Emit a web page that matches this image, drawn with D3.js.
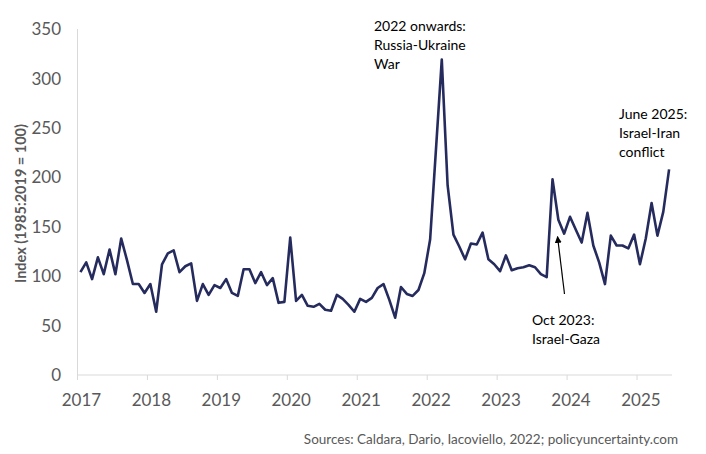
<!DOCTYPE html>
<html>
<head>
<meta charset="utf-8">
<script src="https://cdn.jsdelivr.net/npm/d3@7/dist/d3.min.js"></script>
<style>
  html, body { margin: 0; padding: 0; background: #ffffff; }
  svg { display: block; }
  text { font-family: Lato, "Open Sans", sans-serif; }
</style>
</head>
<body>
<svg id="chart" width="706" height="454"></svg>
<script>
// ---- data (monthly, Jan 2017 – Jun 2025) ----
const startYear = 2017;
const values2017 = [104, 114, 97, 119, 102, 127, 102, 138, 116, 92, 92, 83];
const values2018 = [92, 64, 112, 123, 126, 104, 110, 113, 75, 92, 81, 91];
const values2019 = [88, 97, 83, 80, 107, 107, 93, 104, 91, 98, 73, 74];
const values2020 = [139, 75, 81, 70, 69, 72, 66, 65, 81, 77, 71, 64];
const values2021 = [77, 74, 78, 88, 92, 76, 58, 89, 82, 80, 86, 103];
const values2022 = [137, 228, 319, 192, 142, 130, 117, 133, 132, 144, 117, 112];
const values2023 = [105, 121, 106, 108, 109, 111, 109, 102, 99, 198, 157, 143];
const values2024 = [160, 147, 134, 164, 131, 114, 92, 141, 131, 131, 128, 142];
const values2025 = [112, 138, 174, 141, 165, 208];
const gprValues = [].concat(values2017, values2018, values2019, values2020,
  values2021, values2022, values2023, values2024, values2025);

const yearLabels = ["2017", "2018", "2019", "2020", "2021", "2022", "2023", "2024", "2025"];
const yTicks = [0, 50, 100, 150, 200, 250, 300, 350];

const annotations = [
  { lines: ["2022 onwards:", "Russia-Ukraine", "War"], monthIndex: 62 },
  { lines: ["June 2025:", "Israel-Iran", "conflict"], monthIndex: 101 },
  { lines: ["Oct 2023:", "Israel-Gaza"], monthIndex: 81 }
];
const yAxisTitle = "Index (1985:2019 = 100)";
const sourceText = "Sources: Caldara, Dario, Iacoviello, 2022; policyuncertainty.com";

// ---- layout ----
const svg = d3.select("#chart");
const plotLeft = 77.5, plotRight = 672, plotTop = 29, plotBottom = 375;
const n = gprValues.length;

const x = d3.scaleLinear().domain([-0.5, n - 0.5]).range([plotLeft, plotRight]);
const y = d3.scaleLinear().domain([0, 350]).range([plotBottom, plotTop]);

const axisColor = "#d9d9d9";
const labelColor = "#595959";
const lineColor = "#262b5e";

// Y axis line
svg.append("line")
  .attr("x1", plotLeft).attr("x2", plotLeft)
  .attr("y1", y(350)).attr("y2", y(0))
  .attr("stroke", axisColor).attr("stroke-width", 1);

// Y tick labels
svg.append("g").selectAll("text").data(yTicks).join("text")
  .attr("x", 61).attr("y", d => y(d))
  .attr("dy", "0.36em")
  .attr("text-anchor", "end")
  .attr("font-size", 17)
  .attr("fill", labelColor)
  .text(d => d);

// X axis line
svg.append("line")
  .attr("x1", plotLeft).attr("x2", plotRight)
  .attr("y1", plotBottom).attr("y2", plotBottom)
  .attr("stroke", axisColor).attr("stroke-width", 1);

// X ticks at year boundaries
svg.append("g").selectAll("line").data(yearLabels).join("line")
  .attr("x1", (d, i) => x(i * 12 - 0.5)).attr("x2", (d, i) => x(i * 12 - 0.5))
  .attr("y1", plotBottom).attr("y2", plotBottom + 5)
  .attr("stroke", axisColor).attr("stroke-width", 1);

// X labels
svg.append("g").selectAll("text").data(yearLabels).join("text")
  .attr("x", (d, i) => x(i * 12) + 1)
  .attr("y", 400)
  .attr("dy", "0.36em")
  .attr("text-anchor", "middle")
  .attr("font-size", 17)
  .attr("fill", labelColor)
  .text(d => d);

// Y axis title
svg.append("text")
  .attr("transform", `translate(21,${(120 + 287) / 2}) rotate(-90)`)
  .attr("text-anchor", "middle")
  .attr("dy", "0.36em")
  .attr("font-size", 14.5)
  .attr("font-weight", "bold")
  .attr("fill", labelColor)
  .text(yAxisTitle);

// Line
const line = d3.line().x((d, i) => x(i)).y(d => y(d));
svg.append("path")
  .datum(gprValues)
  .attr("d", line)
  .attr("fill", "none")
  .attr("stroke", lineColor)
  .attr("stroke-width", 2.6)
  .attr("stroke-linejoin", "round");

// Annotations
const annPos = [
  { x: 374, y: 26 },
  { x: 619, y: 114 },
  { x: 532, y: 320 }
];
annotations.forEach((a, k) => {
  const t = svg.append("text")
    .attr("font-size", 14)
    .attr("fill", "#000");
  a.lines.forEach((l, j) => {
    t.append("tspan")
      .attr("x", annPos[k].x)
      .attr("y", annPos[k].y + j * 19.2)
      .attr("dy", "0.36em")
      .text(l);
  });
});

// Arrow for Oct 2023
svg.append("defs").append("marker")
  .attr("id", "arrowhead")
  .attr("viewBox", "0 0 10 10")
  .attr("refX", 9).attr("refY", 5)
  .attr("markerWidth", 7).attr("markerHeight", 7)
  .attr("markerUnits", "userSpaceOnUse")
  .attr("orient", "auto")
  .append("path").attr("d", "M0,0 L10,5 L0,10 z").attr("fill", "#000");

svg.append("line")
  .attr("x1", 564.5).attr("y1", 294)
  .attr("x2", x(81) + 5).attr("y2", y(140))
  .attr("stroke", "#000").attr("stroke-width", 1.2)
  .attr("marker-end", "url(#arrowhead)");

// Source
svg.append("text")
  .attr("x", 678).attr("y", 439)
  .attr("dy", "0.36em")
  .attr("text-anchor", "end")
  .attr("font-size", 13.5)
  .attr("fill", labelColor)
  .text(sourceText);
</script>
</body>
</html>
